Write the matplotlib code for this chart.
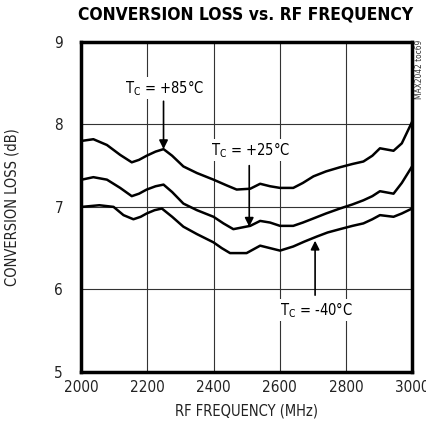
import matplotlib
matplotlib.use("Agg")
import matplotlib.pyplot as plt

# RF frequency (MHz) and conversion loss (dB)
freq_85 = [2002, 2037, 2078, 2118, 2153, 2175, 2198, 2225, 2249, 2275, 2309, 2350,
           2400, 2440, 2470, 2511, 2541, 2571, 2601, 2641, 2670, 2702, 2740, 2782,
           2820, 2853, 2880, 2903, 2944, 2969, 3000]
loss_85 = [7.80, 7.82, 7.75, 7.63, 7.54, 7.57, 7.62, 7.67, 7.70, 7.62, 7.49, 7.41,
           7.33, 7.26, 7.21, 7.22, 7.28, 7.25, 7.23, 7.23, 7.29, 7.37, 7.43, 7.48,
           7.52, 7.55, 7.62, 7.71, 7.68, 7.77, 8.03]

freq_25 = [2002, 2037, 2078, 2118, 2153, 2175, 2198, 2225, 2249, 2275, 2309, 2350,
           2400, 2430, 2460, 2511, 2541, 2571, 2601, 2641, 2670, 2702, 2740, 2782,
           2820, 2853, 2880, 2903, 2944, 2969, 3000]
loss_25 = [7.33, 7.36, 7.33, 7.23, 7.13, 7.16, 7.21, 7.25, 7.27, 7.18, 7.04, 6.96,
           6.88, 6.80, 6.73, 6.77, 6.83, 6.81, 6.77, 6.77, 6.81, 6.86, 6.92, 6.98,
           7.03, 7.08, 7.13, 7.19, 7.16, 7.29, 7.49]

freq_m40 = [2002, 2055, 2098, 2128, 2158, 2180, 2198, 2222, 2244, 2275, 2309, 2350,
            2400, 2425, 2450, 2500, 2541, 2571, 2601, 2641, 2675, 2712, 2745, 2782,
            2820, 2853, 2880, 2903, 2944, 2969, 3000]
loss_m40 = [7.00, 7.02, 7.00, 6.90, 6.85, 6.88, 6.92, 6.96, 6.98, 6.88, 6.76, 6.67,
            6.57, 6.50, 6.44, 6.44, 6.53, 6.50, 6.47, 6.52, 6.58, 6.64, 6.69, 6.73,
            6.77, 6.80, 6.85, 6.90, 6.88, 6.92, 6.98]

x_ticks = [2000, 2200, 2400, 2600, 2800, 3000]
y_ticks = [5, 6, 7, 8, 9]

plt.rcParams['font.family'] = ['DejaVu Sans']
plt.rcParams['font.stretch'] = 'condensed'

fig = plt.figure(figsize=(4.27, 4.36), dpi=100)
ax = fig.add_axes([0.19, 0.147, 0.775, 0.757])

for xv in x_ticks[1:-1]:
    ax.axvline(xv, color='#333333', lw=0.8, zorder=1)
for yv in y_ticks[1:-1]:
    ax.axhline(yv, color='#333333', lw=0.8, zorder=1)

for f, l in [(freq_85, loss_85), (freq_25, loss_25), (freq_m40, loss_m40)]:
    ax.plot(f, l, color='black', lw=1.8, zorder=3, solid_joinstyle='round')

ax.set_xlim(2000, 3000)
ax.set_ylim(5, 9)
ax.set_xticks(x_ticks)
ax.set_yticks(y_ticks)
ax.tick_params(length=0, labelsize=11, colors='#222222')
ax.tick_params(axis='x', pad=6)
ax.tick_params(axis='y', pad=13)
for s in ax.spines.values():
    s.set_linewidth(2.5)

ax.set_xlabel('RF FREQUENCY (MHz)', fontsize=10.5, color='#222222', labelpad=6)
ax.set_ylabel('CONVERSION LOSS (dB)', fontsize=10.5, color='#222222')
ax.yaxis.set_label_coords(-0.185, 0.5)
fig.text(0.574, 0.967, 'CONVERSION LOSS vs. RF FREQUENCY', ha='center', va='center',
         fontsize=12.5, fontweight='bold')
fig.text(0.983, 0.84, 'MAX2042 toc69', rotation=90, ha='center', va='center',
         fontsize=6, color='#333333')

box = dict(facecolor='white', edgecolor='none', pad=1)
arrow = dict(arrowstyle='-|>', color='black', lw=1.2, mutation_scale=13,
             shrinkA=0, shrinkB=0)

ax.text(2251, 8.44, '$\\mathregular{T_C}$ = +85°C', ha='center', va='center',
        fontsize=10.5, bbox=box, zorder=4)
ax.annotate('', xy=(2249, 7.70), xytext=(2249, 8.28), arrowprops=arrow, zorder=4)

ax.text(2511, 7.69, '$\\mathregular{T_C}$ = +25°C', ha='center', va='center',
        fontsize=10.5, bbox=box, zorder=4)
ax.annotate('', xy=(2508, 6.76), xytext=(2508, 7.50), arrowprops=arrow, zorder=4)

ax.text(2710, 5.75, '$\\mathregular{T_C}$ = -40°C', ha='center', va='center',
        fontsize=10.5, bbox=box, zorder=4)
ax.annotate('', xy=(2707, 6.59), xytext=(2707, 5.93), arrowprops=arrow, zorder=4)

fig.savefig('out.png', dpi=100)
